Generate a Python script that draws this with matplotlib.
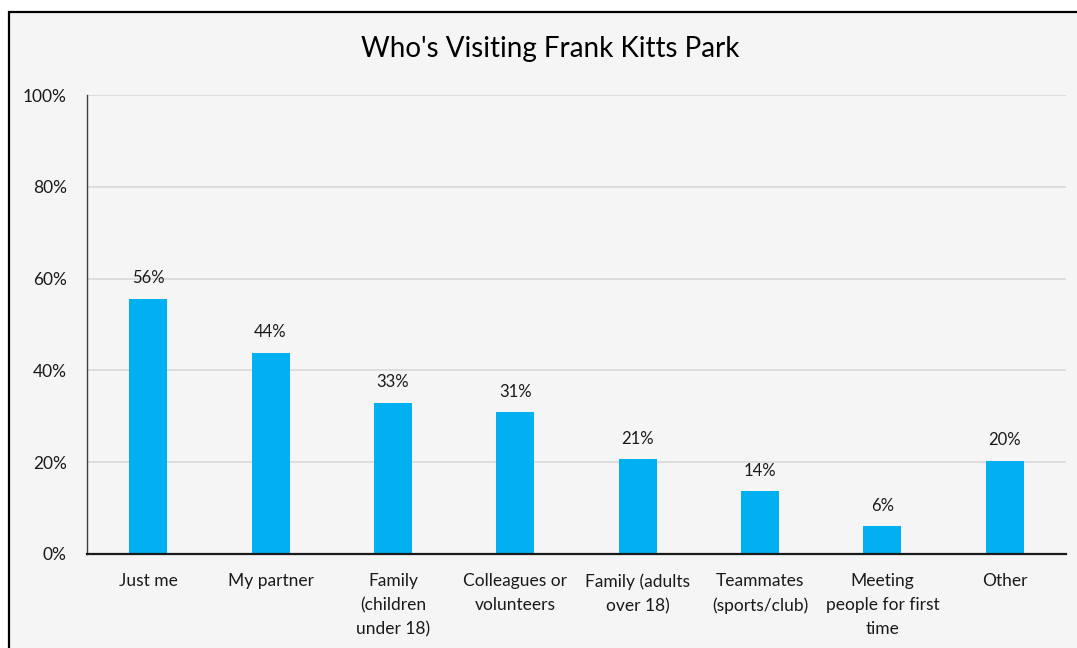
import matplotlib
matplotlib.use("Agg")
import matplotlib.pyplot as plt
from matplotlib.patches import Rectangle
from matplotlib.ticker import FuncFormatter

categories = [
    "Just me",
    "My partner",
    "Family\n(children\nunder 18)",
    "Colleagues or\nvolunteers",
    "Family (adults\nover 18)",
    "Teammates\n(sports/club)",
    "Meeting\npeople for first\ntime",
    "Other",
]
shares = [55.6, 43.8, 32.9, 30.9, 20.6, 13.7, 6.1, 20.3]
y_ticks = [0, 20, 40, 60, 80, 100]
title = "Who's Visiting Frank Kitts Park"

plt.rcParams["font.family"] = ["Lato", "DejaVu Sans"]

W, H = 1077, 648
fig = plt.figure(figsize=(W / 100, H / 100), dpi=100, facecolor="white")

# chart area panel with border on top and left (runs off the right and bottom)
panel = Rectangle((9 / W, -0.1), 1.2, 1.1 - 12 / H, transform=fig.transFigure,
                  facecolor="#f5f5f5", edgecolor="black", linewidth=1.6,
                  zorder=-10)
fig.patches.append(panel)

ax = fig.add_axes([87 / W, 1 - 554 / H, (1066 - 87) / W, (554 - 95) / H])
ax.set_zorder(5)
ax.set_facecolor("none")

x = list(range(len(categories)))
ax.bar(x, shares, width=0.31, color="#00B0F0", zorder=3)
for xi, v in zip(x, shares):
    ax.annotate(f"{round(v):d}%", (xi, v), xytext=(0, 9), textcoords="offset points",
                ha="center", va="bottom", fontsize=12, color="#1a1a1a")

ax.set_xlim(-0.5, len(categories) - 0.5)
ax.set_ylim(0, 100)
ax.set_yticks(y_ticks)
ax.yaxis.set_major_formatter(FuncFormatter(lambda v, _: f"{v:.0f}%"))
ax.set_xticks(x)
ax.set_xticklabels(categories, fontsize=12.5, color="#1a1a1a", linespacing=1.6)
ax.tick_params(axis="y", length=0, pad=14.5, labelsize=12.5, labelcolor="#1a1a1a")
ax.tick_params(axis="x", length=0, pad=14)

ax.grid(axis="y", color="#d9d9d9", linewidth=1.2, zorder=0)
for side in ("top", "right"):
    ax.spines[side].set_visible(False)
ax.spines["left"].set_color("#404040")
ax.spines["left"].set_linewidth(1.0)
ax.spines["bottom"].set_color("#1a1a1a")
ax.spines["bottom"].set_linewidth(1.6)
ax.spines["left"].set_zorder(4)
ax.spines["bottom"].set_zorder(4)

fig.text(550 / W, 1 - 49 / H, title, ha="center", va="center",
         fontsize=20, color="black", zorder=6)

fig.savefig("out.png", dpi=100, facecolor="white")
